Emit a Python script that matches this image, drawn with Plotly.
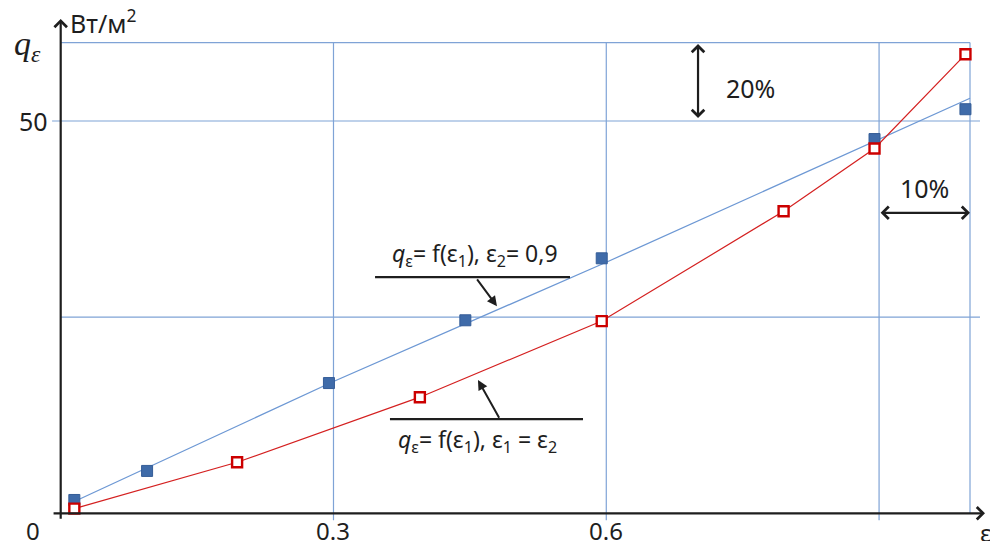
import plotly.graph_objects as go

# Measured heat flux q_eps (W/m^2) versus emissivity eps_1
eps_blue = [0.015, 0.095, 0.295, 0.445, 0.595, 0.895, 0.995]
q_blue = [1.7, 5.4, 16.6, 24.6, 32.5, 47.7, 51.5]

eps_red = [0.015, 0.194, 0.395, 0.595, 0.795, 0.895, 0.995]
q_red = [0.6, 6.5, 14.8, 24.5, 38.5, 46.5, 58.5]

# Trend line for the eps_2 = 0.9 series
fit_eps = [0.015, 0.3, 0.6, 1.0]
fit_q = [1.5, 16.8, 32.0, 52.9]

# Grid and tick labels
x_grid = [0.3, 0.6, 0.9, 1.0]
y_grid = [25, 50, 60]
x_tick_vals = [0.3, 0.6]
x_tick_text = ["0.3", "0.6"]
y_tick_vals = [50]
y_tick_text = ["50"]

GRID = "#7fa3d6"
BLUE_LINE = "#6d98d4"
BLUE_MARK = "#3f6ba9"
RED = "#d42020"
TXT = "#1e1e1e"
FONT = "Noto Sans"

fig = go.Figure()

fig.add_trace(go.Scatter(
    x=fit_eps, y=fit_q, mode="lines",
    line=dict(color=BLUE_LINE, width=1.3), hoverinfo="skip", showlegend=False))
fig.add_trace(go.Scatter(
    x=eps_blue, y=q_blue, mode="markers",
    marker=dict(symbol="square", size=11, color=BLUE_MARK,
                line=dict(color="#355d97", width=1)),
    showlegend=False))
fig.add_trace(go.Scatter(
    x=eps_red, y=q_red, mode="lines+markers",
    line=dict(color=RED, width=1.2),
    marker=dict(symbol="square", size=10, color="white",
                line=dict(color="#cc0000", width=2.4)),
    showlegend=False))

shapes = []
# horizontal grid lines
for v in y_grid:
    x0 = -0.0095 if v == 50 else 0.0
    x1 = 1.0 if v == 60 else 1.011
    shapes.append(dict(type="line", x0=x0, x1=x1, y0=v, y1=v,
                       line=dict(color=GRID, width=1.2), layer="below"))
# vertical grid lines
for v in x_grid:
    y0 = 0 if v == 1.0 else -0.9
    shapes.append(dict(type="line", x0=v, x1=v, y0=y0, y1=60,
                       line=dict(color=GRID, width=1.2), layer="below"))
# underlines of the curve labels
shapes.append(dict(type="line", x0=0.3457, x1=0.5601, y0=30.1, y1=30.1,
                   line=dict(color=TXT, width=2.4)))
shapes.append(dict(type="line", x0=0.3621, x1=0.5744, y0=12.0, y1=12.0,
                   line=dict(color=TXT, width=2.4)))

annotations = []


def arrow(x_tail, y_tail, x_head, y_head, head=4, both=False, size=1.1, width=2.2):
    annotations.append(dict(
        x=x_head, y=y_head, ax=x_tail, ay=y_tail,
        xref="x", yref="y", axref="x", ayref="y",
        text="", showarrow=True, arrowhead=head, arrowsize=size,
        arrowwidth=width, arrowcolor=TXT,
        arrowside="end+start" if both else "end"))


# coordinate axes with arrows
arrow(0, -0.9, 0, 63.0, head=4, size=1.1, width=2.2)
arrow(-0.0095, 0, 1.0165, 0, head=4, size=1.1, width=2.2)

# label pointers
arrow(0.4567, 30.0, 0.4798, 26.4, head=2, size=1.0, width=2.0)
arrow(0.4831, 12.0, 0.4589, 17.0, head=2, size=1.0, width=2.0)

# 20% and 10% dimension arrows
arrow(0.7009, 50.2, 0.7009, 59.8, head=4, both=True, size=1.1, width=2.2)
arrow(0.9, 38.3, 1.0, 38.3, head=4, both=True, size=1.1, width=2.2)


def label(x, y, text, size=21, xanchor="center", family=FONT):
    annotations.append(dict(
        x=x, y=y, xref="x", yref="y", text=text, showarrow=False,
        xanchor=xanchor, yanchor="middle",
        font=dict(family=family, size=size, color=TXT)))


for v, t in zip(x_tick_vals, x_tick_text):
    label(v, -2.15, t, size=24)
label(-0.0305, -2.15, "0", size=24)
label(1.0165, -2.4, "ε", size=24)
for v, t in zip(y_tick_vals, y_tick_text):
    label(-0.0295, v, t, size=25)

label(-0.036, 59.5, "<i>q<sub>ε</sub></i>", size=34, family="Liberation Serif")
label(0.0085, 62.7, "Вт/м<sup>2</sup>", size=25, xanchor="left")

label(0.4556, 33.0, "<i>q</i><sub>ε</sub>= f(ε<sub>1</sub>), ε<sub>2</sub>= 0,9", size=23)
label(0.458, 9.3, "<i>q</i><sub>ε</sub>= f(ε<sub>1</sub>), ε<sub>1</sub> = ε<sub>2</sub>", size=23)
label(0.759, 54.2, "20%", size=25)
label(0.9505, 41.5, "10%", size=25)

fig.update_layout(
    width=990, height=541,
    margin=dict(l=0, r=0, t=0, b=0),
    paper_bgcolor="white", plot_bgcolor="white",
    xaxis=dict(range=[-0.06676, 1.02200], visible=False, fixedrange=True),
    yaxis=dict(range=[-3.530, 65.422], visible=False, fixedrange=True),
    shapes=shapes, annotations=annotations,
    showlegend=False,
)

fig.write_html("out.html")
